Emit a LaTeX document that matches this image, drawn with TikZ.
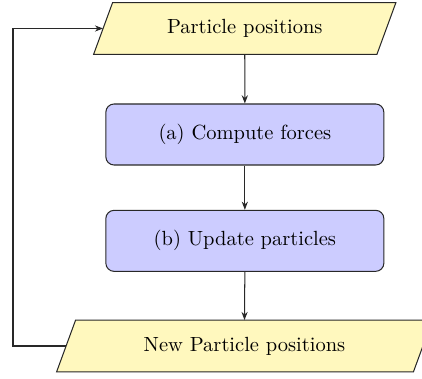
\documentclass[tikz,border=0pt]{standalone}
\usetikzlibrary{arrows.meta,calc,backgrounds}
\def\u{0.4878pt}
\definecolor{paraYellow}{RGB}{255,248,190}
\definecolor{boxBlue}{RGB}{204,204,255}
\definecolor{edgeGray}{RGB}{40,40,40}
\tikzset{
  paratext/.style={draw=none,inner sep=0pt,minimum height=51*\u,font=\fontsize{10}{12}\selectfont},
  parashape/.style={draw=edgeGray,fill=paraYellow,line width=0.5pt,line join=miter},
  procbox/.style={draw=edgeGray,fill=boxBlue,line width=0.5pt,rounded corners=4pt,inner sep=0pt,minimum width=278*\u,minimum height=61*\u,font=\fontsize{10}{12}\selectfont},
  flow/.style={draw=edgeGray,line width=0.5pt,-{Stealth[length=4pt,width=3pt]}},
}
\begin{document}
\begin{tikzpicture}[x=\u,y=-\u]
\clip (0,0) rectangle (422,379);
\node[paratext,minimum width=282.5*\u] (top) at (244.75,28.5) {Particle positions};
\node[procbox] (a) at (244.85,134.5) {(a) Compute forces};
\node[procbox] (b) at (244.85,240.85) {(b) Update particles};
\node[paratext,minimum width=356*\u] (bot) at (244.5,346) {New Particle positions};
\begin{scope}[on background layer]
  \draw[parashape] ($(top.north west)+(9.5,0)$) -- ($(top.north east)+(9.5,0)$) -- ($(top.south east)+(-9.5,0)$) -- ($(top.south west)+(-9.5,0)$) -- cycle;
  \draw[parashape] ($(bot.north west)+(9.5,0)$) -- ($(bot.north east)+(9.5,0)$) -- ($(bot.south east)+(-9.5,0)$) -- ($(bot.south west)+(-9.5,0)$) -- cycle;
\end{scope}
\draw[flow] (top.south) -- (a.north);
\draw[flow] (a.south) -- (b.north);
\draw[flow] (b.south) -- (bot.north);
\coordinate (loopb) at (13,346);
\coordinate (loopt) at (13,28.5);
\draw[flow] (bot.west) -- (loopb) -- (loopt) -- (top.west);
\end{tikzpicture}
\end{document}
